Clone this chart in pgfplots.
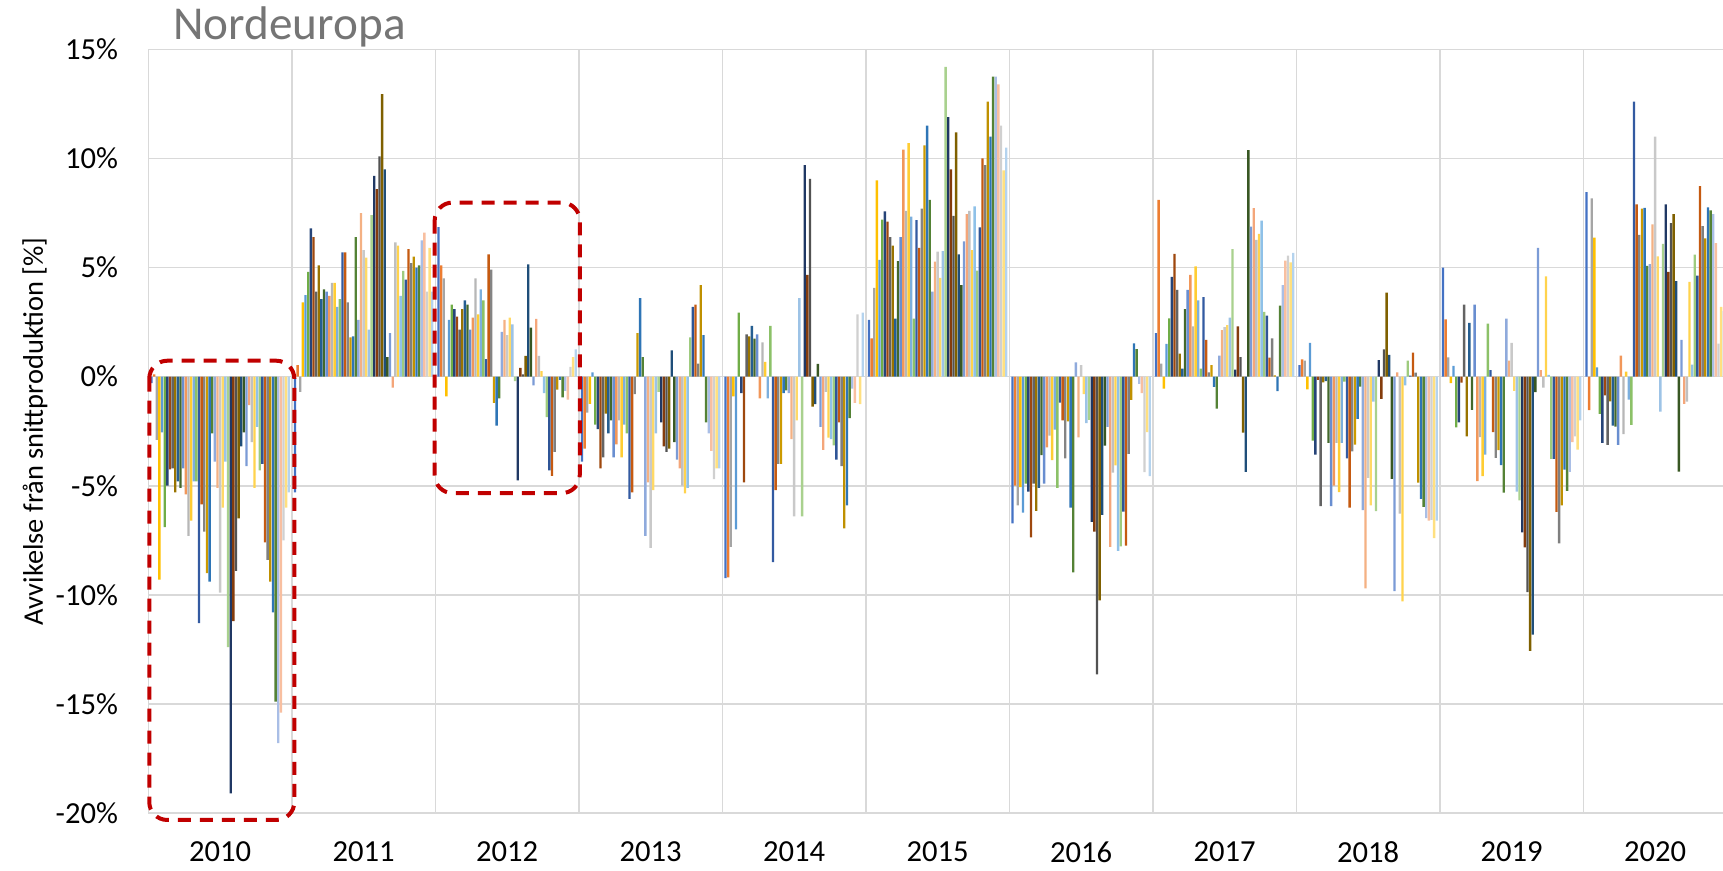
\documentclass[border=0pt]{standalone}
\usepackage{fontspec}
\setmainfont{Carlito}
\usepackage{pgfplots}
\usepackage{pgfplotstable}
\pgfplotsset{compat=1.18}

\definecolor{c1}{HTML}{4472C4}\definecolor{c2}{HTML}{ED7D31}\definecolor{c3}{HTML}{A5A5A5}
\definecolor{c4}{HTML}{FFC000}\definecolor{c5}{HTML}{5B9BD5}\definecolor{c6}{HTML}{70AD47}
\definecolor{c7}{HTML}{264478}\definecolor{c8}{HTML}{9E480E}\definecolor{c9}{HTML}{636363}
\definecolor{c10}{HTML}{997300}\definecolor{c11}{HTML}{255E91}\definecolor{c12}{HTML}{43682B}
\definecolor{c13}{HTML}{698ED0}\definecolor{c14}{HTML}{F1975A}\definecolor{c15}{HTML}{B7B7B7}
\definecolor{c16}{HTML}{FFCD33}\definecolor{c17}{HTML}{7CAFDD}\definecolor{c18}{HTML}{8CC168}
\definecolor{c19}{HTML}{335AA1}\definecolor{c20}{HTML}{C55A11}\definecolor{c21}{HTML}{848484}
\definecolor{c22}{HTML}{CC9A00}\definecolor{c23}{HTML}{2E75B6}\definecolor{c24}{HTML}{548235}
\definecolor{c25}{HTML}{8FAADC}\definecolor{c26}{HTML}{F4B183}\definecolor{c27}{HTML}{C9C9C9}
\definecolor{c28}{HTML}{FFD966}\definecolor{c29}{HTML}{9DC3E6}\definecolor{c30}{HTML}{A9D18E}
\definecolor{c31}{HTML}{203864}\definecolor{c32}{HTML}{843C0C}\definecolor{c33}{HTML}{525252}
\definecolor{c34}{HTML}{7F6000}\definecolor{c35}{HTML}{1F4E79}\definecolor{c36}{HTML}{385723}
\definecolor{c37}{HTML}{7B9BD6}\definecolor{c38}{HTML}{F4A67A}\definecolor{c39}{HTML}{C0C0C0}
\definecolor{c40}{HTML}{FFD34D}\definecolor{c41}{HTML}{8FC1E8}\definecolor{c42}{HTML}{9ECB7E}
\definecolor{c43}{HTML}{2F5597}\definecolor{c44}{HTML}{C55A11}\definecolor{c45}{HTML}{7F7F7F}
\definecolor{c46}{HTML}{BF9000}\definecolor{c47}{HTML}{2E75B6}\definecolor{c48}{HTML}{548235}
\definecolor{c49}{HTML}{A9BEE6}\definecolor{c50}{HTML}{F8BFA0}\definecolor{c51}{HTML}{D0D0D0}
\definecolor{c52}{HTML}{FFE080}\definecolor{c53}{HTML}{B4D3EE}
\definecolor{gridgray}{HTML}{D9D9D9}
\definecolor{titlegray}{HTML}{757575}
\definecolor{boxred}{HTML}{C00000}

% one row per year (0 = 2010), one column per week
\pgfplotstableread{
yr w1 w2 w3 w4 w5 w6 w7 w8 w9 w10 w11 w12 w13 w14 w15 w16 w17 w18 w19 w20 w21 w22 w23 w24 w25 w26 w27 w28 w29 w30 w31 w32 w33 w34 w35 w36 w37 w38 w39 w40 w41 w42 w43 w44 w45 w46 w47 w48 w49 w50 w51 w52 w53
0 -0.3 0.1 -2.9 -9.3 -2.55 -6.9 -5.0 -4.25 -4.2 -5.3 -4.8 -5.1 -4.2 -5.4 -7.3 -6.6 -4.8 -4.8 -11.3 -5.85 -7.1 -9.0 -9.4 -2.6 -3.9 -5.1 -9.9 -6.0 -3.9 -12.4 -19.1 -11.2 -8.9 -6.5 -3.2 -2.55 -4.1 -1.3 -3.0 -5.1 -2.3 -4.3 -4.0 -7.6 -8.4 -9.4 -10.8 -14.9 -16.8 -15.4 -7.5 -6.0 -5.3
1 -5.3 0.53 -0.7 3.4 3.74 4.8 6.8 6.4 3.9 5.1 3.55 4.0 3.9 3.7 4.3 4.3 3.2 3.55 5.7 5.7 3.4 1.8 1.85 6.4 2.6 7.5 5.8 5.45 2.15 7.4 9.2 8.6 10.1 12.95 9.5 0.9 2.0 -0.5 6.15 6.0 3.7 4.85 4.45 5.85 5.2 5.5 5.0 5.1 6.25 6.6 3.9 5.9 3.9
2 6.85 5.1 4.5 -0.9 2.6 3.3 3.1 2.75 2.15 3.1 3.5 3.3 2.15 2.7 4.5 2.85 4.0 3.5 0.8 5.6 4.9 -1.2 -2.25 -1.0 2.05 2.6 1.9 2.7 2.4 -0.2 -4.75 0.4 0.1 0.95 5.15 2.25 -0.4 2.65 0.95 0.25 -0.75 -1.85 -4.3 -4.55 -3.45 -0.6 -0.15 -0.95 -0.65 -1.05 0.45 0.9 1.25
3 -3.9 -3.3 -1.65 -1.25 0.2 -2.2 -2.4 -4.2 -3.7 -1.7 -2.6 -2.0 -3.7 -3.1 -2.0 -3.7 -2.2 -2.6 -5.6 -5.3 -0.8 2.0 3.6 0.9 -7.3 -4.85 -7.85 -5.2 -2.6 -0.7 -2.1 -3.2 -3.45 -3.3 1.2 -3.0 -3.8 -4.2 -5.0 -5.35 -5.1 1.8 3.2 3.3 0.6 4.2 1.9 -2.1 -2.6 -3.4 -4.7 -4.2 -4.2
4 -9.24 -9.2 -7.8 -0.9 -7.0 2.93 -0.75 -4.85 1.94 1.85 2.33 1.74 1.94 -1.0 1.57 0.68 -1.0 2.33 -8.5 -5.2 -4.0 -4.0 -0.75 -0.63 -0.75 -2.86 -6.4 -2.0 3.6 -6.4 9.7 4.67 9.06 -1.37 -1.26 0.58 -2.3 -3.36 -0.7 -2.8 -2.86 -3.15 -3.8 -2.1 -4.1 -6.95 -5.9 -1.9 -0.55 -1.2 2.86 -1.26 2.93
5 2.6 1.75 4.07 9.0 5.35 7.2 7.57 7.1 6.4 6.0 2.66 5.3 6.4 10.4 7.6 10.7 7.34 2.66 7.17 5.9 7.7 10.6 11.5 8.1 3.9 5.27 5.73 4.53 5.75 14.2 11.9 9.5 7.37 11.2 5.6 4.2 6.2 7.45 7.6 5.8 7.8 4.86 6.84 10.0 9.7 12.6 11.0 13.75 13.75 13.4 11.5 9.45 10.5
6 -6.73 -5.0 -5.9 -5.06 -6.23 -4.9 -5.27 -7.37 -4.9 -6.15 -5.1 -3.6 -4.9 -3.24 -2.7 -3.83 -2.43 -5.1 -1.19 -2.0 -3.75 -2.05 -6.0 -8.97 0.65 -2.78 0.53 -0.8 -2.13 -1.98 -6.66 -7.1 -13.65 -10.26 -6.34 -3.16 -2.3 -7.8 -4.4 -4.07 -7.98 -7.78 -6.19 -7.75 -3.54 -1.06 1.52 1.26 -0.33 -0.76 -4.38 -2.54 -4.56
7 2.0 8.1 0.6 -0.55 1.5 2.67 4.57 5.63 3.98 1.05 0.37 3.1 3.98 4.66 2.3 5.06 3.5 0.37 3.64 1.68 0.2 0.53 -0.47 -1.46 0.96 2.13 2.27 2.36 2.7 5.85 0.32 2.3 0.9 -2.56 -4.36 10.38 6.88 7.73 6.27 6.54 7.15 2.97 2.8 0.87 1.75 0.06 -0.66 3.25 4.2 5.32 5.55 5.24 5.67
8 0.53 0.79 0.73 -0.58 1.55 -2.93 -3.57 -0.15 -5.93 -0.26 -0.2 -3.04 -5.93 -5.0 -3.04 -5.29 -3.04 -0.23 -3.75 -6.0 -3.42 -3.12 -1.93 -0.46 -6.12 -9.7 -4.64 -5.9 -1.14 -6.16 0.76 -1.02 1.25 3.85 1.0 -4.68 -9.83 0.2 -6.28 -10.3 -0.4 0.73 0.05 1.1 0.18 -4.86 -5.6 -5.97 -6.49 -6.6 -6.57 -7.4 -6.6
9 5.0 2.63 0.88 -0.3 0.49 -2.33 -2.1 -0.27 3.3 -2.74 2.46 -1.52 3.3 -4.79 -2.77 -4.56 -3.57 2.43 0.3 -2.54 -3.72 -3.37 -4.06 -5.32 2.66 0.73 1.55 -0.65 -5.27 -5.67 -7.14 -7.83 -9.88 -12.57 -11.82 -0.71 5.9 0.3 -0.5 4.6 0.08 -3.77 -3.77 -6.2 -7.64 -5.9 -4.26 -5.24 -4.36 -3.0 -2.74 -3.34 -2.0
10 8.46 -1.53 8.17 6.37 0.43 -1.71 -3.04 -0.86 -3.13 -1.13 -2.24 -2.29 -3.13 0.96 -2.63 0.23 -1.05 -2.21 12.6 7.9 6.5 7.7 7.74 5.08 5.16 6.98 11.0 5.51 -1.6 6.08 7.9 4.8 7.04 7.45 4.38 -4.35 1.68 -1.25 -1.15 4.34 0.55 5.59 4.63 8.73 6.9 6.34 7.76 7.62 7.45 6.12 1.51 3.2 3.0
}\data

\begin{document}
\begin{tikzpicture}
\begin{axis}[
  at={(0,0)}, anchor=south west,
  scale only axis, width=787.3pt, height=381.8pt,
  xmin=-0.5, xmax=10.473, ymin=-20, ymax=15,
  clip mode=individual,
  axis line style={draw=none},
  major tick length=0pt, minor tick length=0pt,
  xtick={0,1,2,3,4,5,6,7,8,9,10},
  xticklabels={2010,2011,2012,2013,2014,2015,2016,2017,2018,2019,2020},
  minor xtick={-0.5,0.5,1.5,2.5,3.5,4.5,5.5,6.5,7.5,8.5,9.5},
  xminorgrids=true, xmajorgrids=false, ymajorgrids=true,
  major grid style={draw=gridgray, line width=0.8pt},
  minor grid style={draw=gridgray, line width=0.8pt},
  ytick={-20,-15,-10,-5,0,5,10,15},
  yticklabels={-20\%,-15\%,-10\%,-5\%,0\%,5\%,10\%,15\%},
  tick label style={font=\fontsize{15.3}{18}\selectfont, text=black},
  yticklabel style={anchor=east, inner sep=0pt, xshift=-15pt},
  xticklabel style={anchor=north, inner sep=0pt, yshift=-14pt},
  ylabel={Avvikelse från snittproduktion [\%]},
  every axis y label/.style={at={(axis description cs:-0.072,0.5)}, rotate=90, anchor=center, font=\fontsize{14.2}{17}\selectfont},
]
\pgfplotsinvokeforeach{1,...,53}{
  \addplot[ybar, bar width=0.0165, bar shift=0pt, fill=c#1, draw=none]
    table[x expr=\thisrow{yr}+(#1-27)*0.0184, y=w#1]{\data};
}
\node[anchor=base west, inner sep=0pt, xshift=12.3pt, yshift=5pt,
      font=\fontsize{23.6}{27}\selectfont, text=titlegray]
  at (axis description cs:0,1) {Nordeuropa};
\draw[boxred, line width=2pt, dash pattern=on 6.5pt off 4.5pt, rounded corners=9pt]
  (axis cs:-0.494,0.73) rectangle (axis cs:0.517,-20.32);
\draw[boxred, line width=2pt, dash pattern=on 6.5pt off 4.5pt, rounded corners=9pt]
  (axis cs:1.495,7.98) rectangle (axis cs:2.506,-5.34);
\end{axis}
\pgfresetboundingbox
\path[use as bounding box] (-74.2pt,-29pt) rectangle (787.3pt,406.5pt);
\end{tikzpicture}
\end{document}
